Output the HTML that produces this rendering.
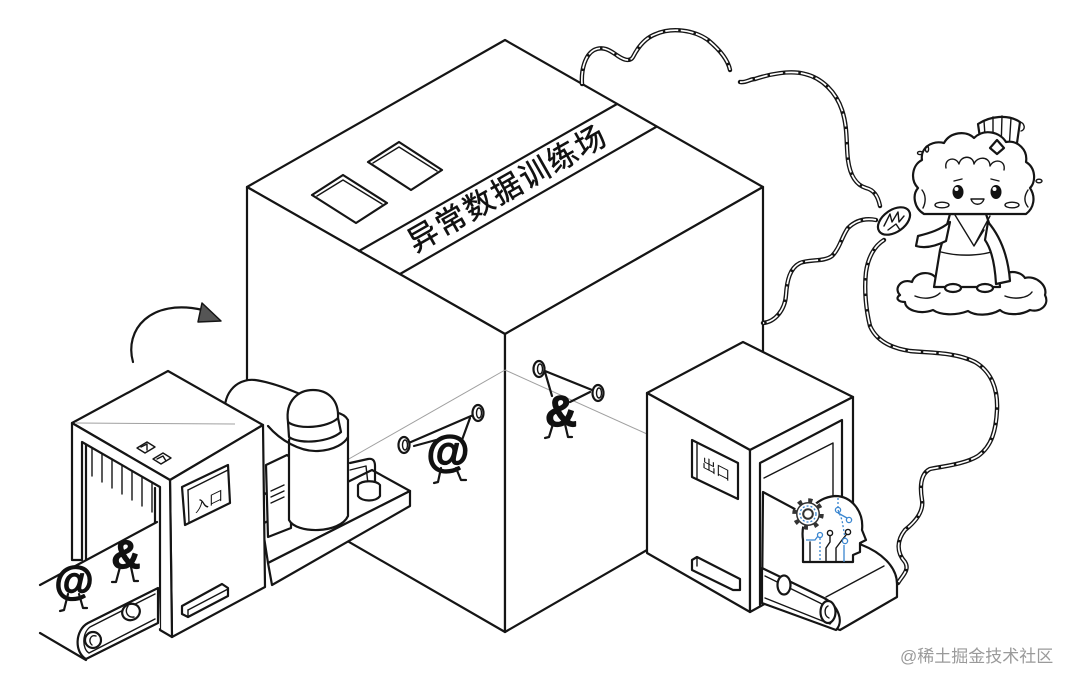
<!DOCTYPE html>
<html><head><meta charset="utf-8">
<style>
html,body{margin:0;padding:0;background:#fff;width:1080px;height:686px;overflow:hidden}
svg{display:block}
.k{fill:#fff;stroke:#151515;stroke-width:2.2;stroke-linejoin:round;stroke-linecap:round}
.n{fill:none;stroke:#151515;stroke-width:2.2;stroke-linejoin:round;stroke-linecap:round}
.t{fill:none;stroke:#151515;stroke-width:1.4;stroke-linecap:round;stroke-linejoin:round}
.g{fill:none;stroke:#a0a0a0;stroke-width:1}
.rope{fill:none;stroke:#151515;stroke-width:4.4;stroke-linecap:round;stroke-linejoin:round}
.ropei{fill:none;stroke:#fff;stroke-width:1.7;stroke-dasharray:13 2.5}
.bl{fill:none;stroke:#3a86d0;stroke-width:1.3}
.bd{fill:none;stroke:#3a86d0;stroke-width:1.3;stroke-dasharray:2 2}
.glyph{fill:#111;stroke:#111;stroke-width:1.3;stroke-linejoin:round}
</style></head><body>
<svg width="1080" height="686" viewBox="0 0 1080 686" xmlns="http://www.w3.org/2000/svg" font-family="'Liberation Sans','Noto Sans CJK SC',sans-serif">

<!-- BIG BOX -->
<polygon class="k" points="247,187 505,40 763,187 505,334"/>
<polygon class="k" points="247,187 505,334 505,632 247,483"/>
<polygon class="k" points="505,334 763,187 763,483 505,632"/>
<line class="n" x1="359" y1="251" x2="617" y2="104"/>
<line class="n" x1="400" y1="274" x2="656" y2="127"/>
<text transform="translate(508,189) rotate(-29.7)" font-size="30" letter-spacing="2" text-anchor="middle" dominant-baseline="central" fill="#111" stroke="#111" stroke-width="0.5">异常数据训练场</text>
<!-- windows -->
<polygon class="k" points="312,195 343,175 387,203 356,223"/>
<polyline class="t" stroke="#777" points="317,196 343,180 382,204"/>
<polygon class="k" points="368,162 399,142 442,170 411,190"/>
<polyline class="t" stroke="#777" points="373,163 399,147 437,171"/>

<!-- faint path lines -->
<line class="g" x1="333" y1="468" x2="505" y2="370"/>
<line class="g" x1="505" y1="370" x2="647" y2="434"/>

<!-- ropes -->
<g>
<path class="rope" d="M582,84 C581,70 585,55 594,50 C604,45 612,52 618,56 C624,60 630,62 633,57 C638,47 645,38 656,34 C672,27 694,30 708,40 C720,50 728,60 730,70"/>
<path class="rope" d="M740,82 C746,83 750,79 755,79 C770,74 790,70 805,74 C822,78 836,92 842,110 C848,128 846,145 848,160 C850,175 856,185 866,188 C874,190 878,196 880,206"/>
<path class="rope" d="M876,220 C866,218 856,220 848,228 C842,236 840,248 832,256 C824,262 810,259 800,263 C790,268 787,280 786,295 C785,310 775,322 763,323"/>
<path class="rope" d="M884,240 C874,246 868,258 866,272 C864,290 866,310 870,326 C876,340 890,348 910,351 C930,353 955,352 975,362 C992,372 998,390 997,410 C996,430 992,446 978,456 C965,464 945,466 930,469 C920,474 920,488 922,500 C924,512 915,522 905,530 C897,540 896,552 905,562 C910,570 902,576 898,583"/>
<path class="ropei" d="M582,84 C581,70 585,55 594,50 C604,45 612,52 618,56 C624,60 630,62 633,57 C638,47 645,38 656,34 C672,27 694,30 708,40 C720,50 728,60 730,70"/>
<path class="ropei" d="M740,82 C746,83 750,79 755,79 C770,74 790,70 805,74 C822,78 836,92 842,110 C848,128 846,145 848,160 C850,175 856,185 866,188 C874,190 878,196 880,206"/>
<path class="ropei" d="M876,220 C866,218 856,220 848,228 C842,236 840,248 832,256 C824,262 810,259 800,263 C790,268 787,280 786,295 C785,310 775,322 763,323"/>
<path class="ropei" d="M884,240 C874,246 868,258 866,272 C864,290 866,310 870,326 C876,340 890,348 910,351 C930,353 955,352 975,362 C992,372 998,390 997,410 C996,430 992,446 978,456 C965,464 945,466 930,469 C920,474 920,488 922,500 C924,512 915,522 905,530 C897,540 896,552 905,562 C910,570 902,576 898,583"/>
</g>

<!-- barbell figures -->
<g>
<line class="n" x1="404" y1="445" x2="478" y2="413" stroke-width="2.6"/>
<ellipse class="k" cx="404" cy="445" rx="5.5" ry="8"/>
<ellipse class="t" cx="405" cy="445" rx="2.5" ry="5"/>
<ellipse class="k" cx="478" cy="413" rx="5.5" ry="8"/>
<ellipse class="t" cx="479" cy="413" rx="2.5" ry="5"/>
<line class="n" x1="436" y1="440" x2="414" y2="446"/>
<line class="n" x1="462" y1="440" x2="470" y2="418"/>
<text class="glyph" x="448" y="466" font-size="44" font-weight="bold" text-anchor="middle">@</text>
<path class="n" d="M441,468 L438,482 L434,483 M456,468 L461,480 L466,480"/>

<line class="n" x1="540" y1="369" x2="597" y2="392" stroke-width="2.6"/>
<ellipse class="k" cx="539" cy="369" rx="5.5" ry="8"/>
<ellipse class="t" cx="540" cy="369" rx="2.5" ry="5"/>
<ellipse class="k" cx="598" cy="393" rx="5.5" ry="8"/>
<ellipse class="t" cx="599" cy="393" rx="2.5" ry="5"/>
<line class="n" x1="552" y1="396" x2="545" y2="372"/>
<line class="n" x1="570" y1="402" x2="590" y2="392"/>
<text class="glyph" x="561" y="426" font-size="44" font-weight="bold" text-anchor="middle">&amp;</text>
<path class="n" d="M553,424 L549,437 L545,438 M565,424 L568,437 L572,437"/>
</g>

<!-- EXIT MACHINE -->
<polygon class="k" points="647,393 743,342 853,397 750,450"/>
<polygon class="k" points="647,393 750,450 750,612 647,553"/>
<polygon class="k" points="750,450 853,397 853,555 750,612"/>
<polygon fill="#fff" stroke="none" points="760,463 842,420 842,560 760,605"/>
<polyline class="n" points="760,605 760,463 842,420 842,530" stroke-width="2.6"/>
<polyline class="t" points="764,478 833,443 833,500"/>
<!-- sign -->
<polygon class="k" points="692,440 738,463 738,499 692,477"/>
<line class="t" x1="697" y1="444" x2="697" y2="479"/>
<line class="t" x1="697" y1="479" x2="738" y2="499"/>
<text transform="translate(716,474) skewY(27)" font-size="14" text-anchor="middle" fill="#111">出口</text>
<!-- slot -->
<polygon class="k" points="692,560 697,557 740,579 740,590 733,590 692,570"/>
<line class="t" x1="697" y1="557" x2="697" y2="566"/>
<!-- belt exit -->
<path class="k" d="M763,492 L862,545 C880,552 897,566 897,584 L897,597 L840,630 L762,603 Z"/>
<line class="t" x1="826" y1="597" x2="884" y2="566"/>
<path class="k" d="M762,568 L824,598 C839,606 844,622 836,630 L762,603 Z"/>
<path class="t" d="M765,576 L820,603 C832,609 834,620 830,624 L765,598"/>
<ellipse class="k" cx="784" cy="585" rx="6.5" ry="9.5"/>
<ellipse class="k" cx="828" cy="612" rx="7.5" ry="11"/>
<path class="t" d="M828,606 C824,608 824,616 829,618"/>
<!-- brain icon -->
<g>
<path class="k" stroke-width="1.8" d="M803,562 L803,540 C800,520 812,498 835,496 C852,496 864,512 862,530 L866,540 L860,543 L860,552 L853,555 L853,562 Z"/>
<line class="t" x1="810" y1="542" x2="810" y2="562"/>
<path class="bl" d="M806,540 L815,540 L818,536"/>
<circle cx="820" cy="535" r="2.5" class="bl"/>
<path class="bd" d="M820,538 L820,562"/>
<path class="t" d="M826,562 L826,548 L830,542 L830,536"/>
<circle cx="830" cy="533" r="2.6" class="t"/>
<path class="t" d="M836,562 L836,548 L842,540 L846,535"/>
<circle cx="848" cy="532" r="2.6" class="t"/>
<path class="bl" d="M844,562 L844,545"/>
<circle cx="845" cy="541" r="2.6" class="bl"/>
<path class="bd" d="M838,498 L838,510 L842,520 L845,538"/>
<circle cx="838" cy="510" r="2.6" class="bl"/>
<circle cx="849" cy="520" r="2.6" class="bl"/>
<path class="bl" d="M838,513 L847,518"/>
<circle cx="808" cy="514" r="13.5" fill="#fff" stroke="#333" stroke-width="4.5" stroke-dasharray="4.2 6.4"/>
<circle cx="808" cy="514" r="11.2" fill="#fff" stroke="#333" stroke-width="1.5"/>
<circle cx="808" cy="514" r="8" class="bd" stroke-dasharray="1.5 1.5"/>
<circle cx="808" cy="514" r="4.8" fill="none" stroke="#333" stroke-width="2"/>
</g>

<!-- LEFT CLUSTER -->
<!-- hump -->
<path fill="#fff" stroke="none" d="M224,425 C220,395 236,378 255,380 L300,393 L300,460 L263,470 L263,425 Z"/>
<path class="n" d="M226,420 C220,395 236,378 255,380 C270,382 286,388 300,394"/>
<!-- platform -->
<polygon class="k" points="262,524 372,470 410,491 268,563"/>
<polygon class="k" points="268,563 410,491 410,506 272,585"/>
<!-- small box -->
<polygon class="k" points="266,465 287,455 291,458 291,528 268,537"/>
<path class="t" d="M271,491 L284,485 M271,497 L284,491 M271,503 L284,497"/>
<!-- cylinder -->
<path class="k" d="M289,440 L289,520 C296,534 340,534 348,516 L348,420 C340,405 300,410 289,440 Z"/>
<path class="n" d="M268,426 C280,440 300,452 318,451 C335,450 345,443 348,437" stroke-width="1.8"/>
<path class="k" d="M288,422 L289,437 C300,445 330,442 341,432 L338,418 Z"/>
<path class="k" d="M288,422 C285,400 299,390 313,390 C328,390 339,400 338,418 C328,428 298,430 288,422 Z"/>
<!-- pipe & cup -->
<path class="n" d="M350,463 L368,459 C373,458 375,461 375,466 L375,484"/>
<path class="t" d="M350,470 L366,466 L368,484"/>
<path class="k" d="M358,485 C362,480 376,480 380,485 L380,496 C376,502 362,502 358,496 Z"/>

<!-- entry machine -->
<polygon class="k" points="72,423 168,371 263,425 170,480"/>
<line class="g" x1="76" y1="423" x2="235" y2="424"/>
<polygon class="k" points="170,480 263,425 265,587 172,637"/>
<polygon class="k" points="72,423 170,480 172,637 160,630 160,487 82,442 82,560 72,560"/>
<line class="n" x1="86" y1="445" x2="86" y2="560" stroke-width="1.6"/>
<g class="t">
<line x1="92" y1="448" x2="92" y2="476"/>
<line x1="102" y1="454" x2="102" y2="482"/>
<line x1="112" y1="459" x2="112" y2="488"/>
<line x1="122" y1="465" x2="122" y2="494"/>
<line x1="132" y1="471" x2="132" y2="500"/>
<line x1="142" y1="477" x2="142" y2="506"/>
<line x1="152" y1="483" x2="152" y2="512"/>
</g>
<line class="n" x1="155" y1="488" x2="155" y2="625" stroke-width="1.5"/>
<!-- top squares -->
<polygon class="t" points="137,448 147,442 155,447 145,453"/>
<path class="t" d="M141,447 L147,444 L147,450"/>
<polygon class="t" points="153,459 163,453 171,458 161,464"/>
<path class="t" d="M157,459 L163,456 L166,461"/>
<!-- sign -->
<polygon class="k" points="182,487 228,465 230,503 185,525"/>
<line class="t" x1="188" y1="490" x2="189" y2="523"/>
<line class="t" x1="188" y1="490" x2="228" y2="470"/>
<text transform="translate(209,506) skewY(-26)" font-size="14" text-anchor="middle" fill="#111">入口</text>
<!-- slot -->
<polygon class="k" points="182,606 222,584 228,588 228,596 188,617 182,614"/>
<line class="t" x1="188" y1="610" x2="188" y2="617"/>
<line class="t" x1="188" y1="610" x2="228" y2="589"/>

<!-- entry belt -->
<polygon fill="#fff" stroke="none" points="40,585 157,522 160,628 86,660 40,633"/>
<line class="n" x1="40" y1="585" x2="157" y2="522"/>
<line class="n" x1="40" y1="633" x2="86" y2="660"/>
<path class="k" d="M158,588 L88,623 C75,630 74,652 86,659 L158,623 Z"/>
<path class="t" d="M155,594 L90,627 C82,633 82,649 89,653 L155,619"/>
<circle class="k" cx="93" cy="640" r="8"/>
<path class="t" d="M96,636 C90,634 88,642 92,645"/>
<ellipse class="k" cx="131" cy="612" rx="9" ry="8" transform="rotate(-25 131 612)"/>
<path class="t" d="M128,606 C124,612 128,618 134,617"/>

<!-- belt figures -->
<text class="glyph" x="74" y="594" font-size="40" font-weight="bold" text-anchor="middle">@</text>
<path class="n" d="M68,594 L64,610 L60,611 M79,594 L83,608 L87,608" stroke-width="2.6"/>
<text class="glyph" x="126" y="568" font-size="40" font-weight="bold" text-anchor="middle">&amp;</text>
<path class="n" d="M120,567 L116,582 L112,582 M131,567 L134,581 L138,581" stroke-width="2.4"/>

<!-- curved arrow -->
<path class="n" d="M133,362 C124,330 150,298 203,310"/>
<polygon points="202,303 221,321 198,322" fill="#555" stroke="#151515" stroke-width="1.5" stroke-linejoin="round"/>

<!-- CHARACTER -->
<g>
<path class="k" d="M900,295 C893,288 902,278 912,282 C915,272 930,270 936,278 L1000,278 C1005,270 1020,270 1025,278 C1035,275 1048,285 1045,295 C1050,305 1040,313 1030,310 C1020,316 1005,315 1000,310 C990,316 975,316 968,311 C955,316 940,315 933,310 C920,315 905,310 905,302 C898,302 895,298 900,295 Z"/>
<path class="t" d="M915,296 C925,300 935,298 940,293 M1005,296 C1015,300 1028,298 1032,292"/>
<path class="k" d="M950,214 L940,250 L934,287 L1000,287 L998,250 L986,214 Z"/>
<ellipse class="k" cx="953" cy="288" rx="8" ry="4"/>
<ellipse class="k" cx="985" cy="288" rx="8" ry="4"/>
<path class="t" d="M955,215 L974,246 L990,216 M974,246 L984,230"/>
<path class="t" d="M941,252 C960,257 985,256 999,249"/>
<path class="k" d="M950,222 C940,230 930,233 918,236 L916,246 C926,249 936,246 946,241 Z"/>
<path class="k" d="M988,222 C1000,236 1008,255 1010,281 L996,284 C995,266 992,250 985,240 Z"/>
<!-- brush -->
<ellipse class="k" cx="894" cy="221" rx="18" ry="11" transform="rotate(-35 894 221)"/>
<path class="t" d="M884,226 L890,214 L892,222 L898,212 L899,222 L904,216 M888,230 L896,224 L900,230"/>
<!-- crown -->
<path class="k" d="M982,152 L978,124 C990,116 1008,114 1020,122 L1016,150 Z"/>
<path class="t" d="M986,150 L984,121 M993,150 L993,117 M1001,150 L1002,116 M1009,150 L1011,118"/>
<path class="t" d="M1019,122 C1025,122 1026,130 1021,131"/>
<!-- head -->
<path class="k" d="M924,214 C914,208 912,195 918,188 C910,180 912,165 922,160 C920,148 932,140 944,143 C950,132 966,130 974,138 C984,128 1000,132 1006,142 C1018,140 1028,150 1026,162 C1036,168 1036,182 1030,188 C1036,197 1034,208 1026,214 Z"/>
<path class="k" d="M990,148 L997,140 L1004,148 L997,154 Z"/>
<path class="t" d="M946,168 C944,158 956,156 959,164 C961,155 973,155 974,164 C977,156 990,156 990,166 C994,158 1006,160 1004,170"/>
<path class="t" d="M922,190 C926,195 926,202 923,208 M1028,190 C1024,196 1024,202 1028,207"/>
<ellipse cx="958" cy="192" rx="5.5" ry="7" fill="#111"/>
<ellipse cx="996" cy="192" rx="5.5" ry="7" fill="#111"/>
<circle cx="956.5" cy="189" r="2" fill="#fff"/>
<circle cx="994.5" cy="189" r="2" fill="#fff"/>
<path class="t" d="M954,181 L962,179 M991,179 L999,181"/>
<path class="t" d="M971,199 C973,206 982,206 984,199 Z"/>
<ellipse class="t" cx="942" cy="205" rx="7" ry="2.8"/>
<ellipse class="t" cx="1012" cy="205" rx="7" ry="2.8"/>
<ellipse class="t" cx="920" cy="153" rx="2.5" ry="1.6"/>
<ellipse class="t" cx="927" cy="149" rx="1.6" ry="3"/>
<ellipse class="t" cx="1039" cy="181" rx="3" ry="1.8"/>
</g>

<!-- watermark -->
<text x="900" y="662" font-size="17" fill="#9a9a9a">@稀土掘金技术社区</text>
</svg>
</body></html>
